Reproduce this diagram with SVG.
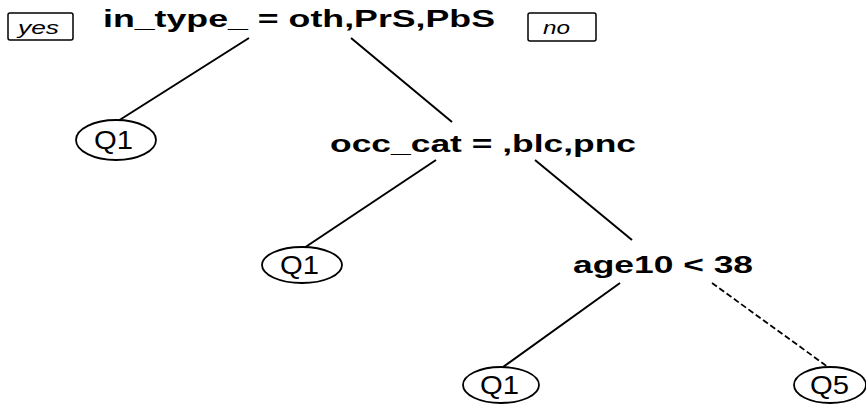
<svg xmlns="http://www.w3.org/2000/svg" width="866" height="407" viewBox="0 0 866 407">
<style>
.split{font-family:"Liberation Sans",Arial,sans-serif;font-weight:bold;font-size:23px;fill:#000}
.leaf{font-family:"Liberation Sans",Arial,sans-serif;font-size:25px;fill:#000}
.lab{font-family:"Liberation Sans",Arial,sans-serif;font-style:italic;font-size:18px;fill:#000}
.box{fill:#fff;stroke:#000;stroke-width:1.5}
.ell{fill:#fff;stroke:#000;stroke-width:1.8}
.edge{stroke:#000;stroke-width:2;fill:none}
.dash{stroke:#000;stroke-width:1.8;fill:none;stroke-dasharray:6,3}
</style>
<rect width="866" height="407" fill="#fff"/>
<g id="connectors">
<line class="edge" x1="249" y1="38" x2="118" y2="121"/>
<line class="edge" x1="351" y1="38" x2="452" y2="122"/>
<line class="edge" x1="436" y1="160" x2="304" y2="248"/>
<line class="edge" x1="535" y1="160" x2="632" y2="240"/>
<line class="edge" x1="620" y1="283" x2="503" y2="367"/>
<line class="dash" x1="712" y1="283" x2="828" y2="367"/>
</g>
<g id="yes">
<rect class="box" x="8" y="13" width="65" height="27" rx="2"/>
<text class="lab" x="18" y="34" textLength="41" lengthAdjust="spacingAndGlyphs">yes</text>
</g>
<g id="no">
<rect class="box" x="528" y="13" width="68" height="28" rx="2"/>
<text class="lab" x="543" y="34" textLength="27" lengthAdjust="spacingAndGlyphs">no</text>
</g>
<g id="root">
<text class="split" x="103" y="27" textLength="392" lengthAdjust="spacingAndGlyphs">in_type_ = oth,PrS,PbS</text>
</g>
<g id="leaf1">
<ellipse class="ell" cx="116" cy="140" rx="40" ry="20"/>
<text class="leaf" x="94" y="149" textLength="39" lengthAdjust="spacingAndGlyphs">Q1</text>
</g>
<g id="occ_cat">
<text class="split" x="330" y="152" textLength="306" lengthAdjust="spacingAndGlyphs">occ_cat = ,blc,pnc</text>
</g>
<g id="leaf2">
<ellipse class="ell" cx="302" cy="265" rx="40" ry="18"/>
<text class="leaf" x="280" y="274" textLength="39" lengthAdjust="spacingAndGlyphs">Q1</text>
</g>
<g id="age10">
<text class="split" x="573" y="273" textLength="180" lengthAdjust="spacingAndGlyphs">age10 &lt; 38</text>
</g>
<g id="leaf3">
<ellipse class="ell" cx="501" cy="385" rx="38" ry="18"/>
<text class="leaf" x="480" y="394" textLength="39" lengthAdjust="spacingAndGlyphs">Q1</text>
</g>
<g id="leaf4">
<ellipse class="ell" cx="830" cy="385" rx="36" ry="18"/>
<text class="leaf" x="810" y="394" textLength="39" lengthAdjust="spacingAndGlyphs">Q5</text>
</g>
</svg>
